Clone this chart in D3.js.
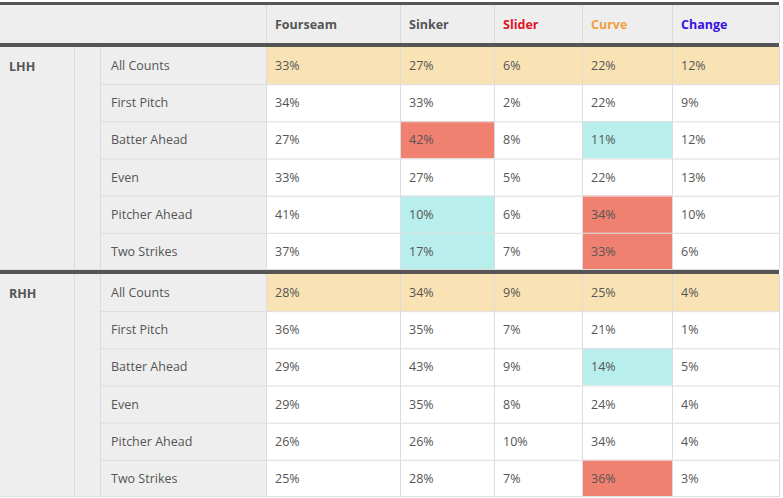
<!DOCTYPE html>
<html lang="en">
<head>
<meta charset="UTF-8" />
<title>Pitch mix by count</title>
<script src="https://d3js.org/d3.v7.min.js"></script>
<style>
	body { margin: 0; background: #fff; }
	text { font-family: "Open Sans", sans-serif; font-size: 12.5px; fill: #555; }
</style>
</head>
<body>
<svg id="chart" width="783" height="498"></svg>
<script>
var pitches = ["Fourseam", "Sinker", "Slider", "Curve", "Change"];
var pitchColors = ["#555", "#555", "#e0142a", "#f0a040", "#3a10e0"];
var counts = ["All Counts", "First Pitch", "Batter Ahead", "Even", "Pitcher Ahead", "Two Strikes"];
var groups = ["LHH", "RHH"];
var lhhValues = [
	[33, 27, 6, 22, 12],
	[34, 33, 2, 22, 9],
	[27, 42, 8, 11, 12],
	[33, 27, 5, 22, 13],
	[41, 10, 6, 34, 10],
	[37, 17, 7, 33, 6]
];
var rhhValues = [
	[28, 34, 9, 25, 4],
	[36, 35, 7, 21, 1],
	[29, 43, 9, 14, 5],
	[29, 35, 8, 24, 4],
	[26, 26, 10, 34, 4],
	[25, 28, 7, 36, 3]
];
// highlight codes: h = high (red), l = low (cyan)
var lhhMarks = [
	["", "", "", "", ""],
	["", "", "", "", ""],
	["", "h", "", "l", ""],
	["", "", "", "", ""],
	["", "l", "", "h", ""],
	["", "l", "", "h", ""]
];
var rhhMarks = [
	["", "", "", "", ""],
	["", "", "", "", ""],
	["", "", "", "l", ""],
	["", "", "", "", ""],
	["", "", "", "", ""],
	["", "", "", "h", ""]
];

var svg = d3.select("#chart");
var colEdges = [266, 400, 494, 582, 672, 779];
var x = d3.scaleOrdinal().domain(pitches).range(colEdges.slice(0, 5));
var colW = function (i) { return colEdges[i + 1] - colEdges[i]; };
var groupTop = [47, 274];
var y = d3.scaleBand().domain(counts).range([0, 223]);
var fills = { "": "#fff", h: "#f08070", l: "#b8eeec" };

// header
svg.append("rect").attr("x", 0).attr("y", 5).attr("width", 779).attr("height", 38).attr("fill", "#eeeeee");
pitches.forEach(function (p, i) {
	svg.append("text").attr("x", x(p) + 9).attr("y", 29)
		.style("font-weight", "bold").style("fill", pitchColors[i]).text(p);
});

[lhhValues, rhhValues].forEach(function (vals, g) {
	var marks = g === 0 ? lhhMarks : rhhMarks;
	var top = groupTop[g];
	var grp = svg.append("g").attr("transform", "translate(0," + top + ")");
	grp.append("rect").attr("width", 266).attr("height", 223).attr("fill", "#eeeeee");
	grp.append("text").attr("x", 9).attr("y", 24).style("font-weight", "bold").text(groups[g]);
	counts.forEach(function (c, r) {
		var ry = y(c);
		grp.append("text").attr("x", 111).attr("y", ry + 23).text(c);
		pitches.forEach(function (p, i) {
			var f = r === 0 ? "#f9e3b4" : fills[marks[r][i]];
			grp.append("rect").attr("x", x(p)).attr("y", ry).attr("width", colW(i))
				.attr("height", y.bandwidth()).attr("fill", f);
			grp.append("text").attr("x", x(p) + 9).attr("y", ry + 23).text(vals[r][i] + "%");
		});
		if (r > 0) {
			grp.append("line").attr("x1", 100).attr("x2", 779).attr("y1", ry + 0.5).attr("y2", ry + 0.5)
				.attr("stroke", "#dcdcdc");
		}
	});
	// vertical grid
	[74, 100].concat(colEdges).forEach(function (cx) {
		grp.append("line").attr("x1", cx + 0.5).attr("x2", cx + 0.5).attr("y1", 0).attr("y2", 223)
			.attr("stroke", "#dcdcdc");
	});
	grp.append("line").attr("x1", 0).attr("x2", 779).attr("y1", 222.5).attr("y2", 222.5).attr("stroke", "#dcdcdc");
});

colEdges.forEach(function (cx) {
	svg.append("line").attr("x1", cx + 0.5).attr("x2", cx + 0.5).attr("y1", 5).attr("y2", 43).attr("stroke", "#dcdcdc");
});
// thick dark rules
[[2, 3], [43, 4], [270, 4]].forEach(function (b) {
	svg.append("rect").attr("x", 0).attr("y", b[0]).attr("width", 779).attr("height", b[1]).attr("fill", "#555");
});
</script>
</body>
</html>
